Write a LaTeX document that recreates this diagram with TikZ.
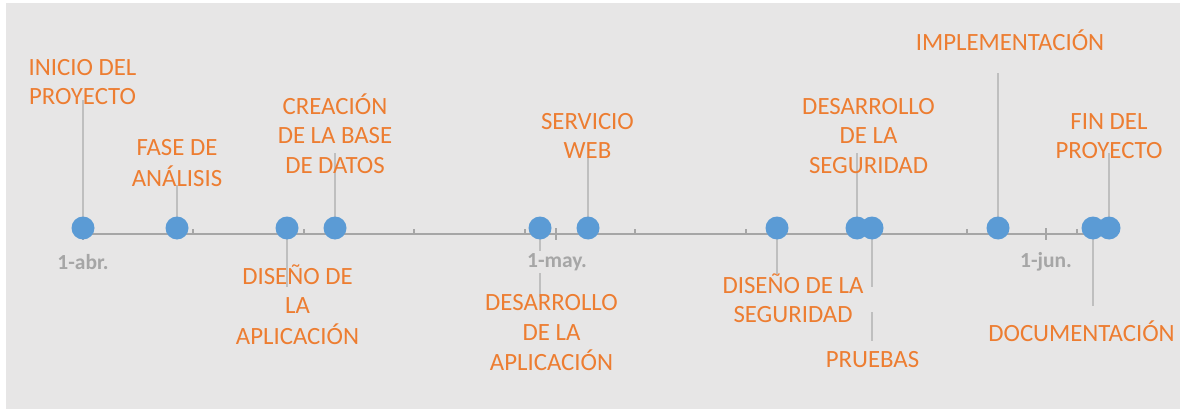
\documentclass[tikz,border=0pt]{standalone}
\usepackage{fontspec}
\setmainfont{Carlito}
\definecolor{bg}{HTML}{E7E6E6}
\definecolor{dotblue}{HTML}{5B9BD5}
\definecolor{lblorange}{HTML}{ED7D31}
\definecolor{axisgray}{HTML}{A6A6A6}
\definecolor{stemgray}{HTML}{BFBFBF}
\pgfdeclarelayer{background}
\pgfsetlayers{background,main}
\tikzset{
  dotnode/.style={circle,fill=dotblue,minimum size=23pt,inner sep=0pt},
  lbl/.style={text=lblorange,align=center,inner sep=0pt,font=\fontsize{24.8}{29.5}\selectfont},
  datelbl/.style={text=axisgray,fill=bg,inner sep=2pt,font=\fontsize{21.5}{24}\selectfont\bfseries},
  stem/.style={draw=stemgray,line width=1.3pt},
  axisline/.style={draw=axisgray,line width=2pt},
  ticksty/.style={draw=axisgray,line width=1.4pt}
}
\begin{document}
\begin{tikzpicture}[x=1pt,y=-1pt]
\useasboundingbox (0,0) rectangle (1180,409);
% dots
\path
  (83,228) node[dotnode] (d1) {}
  (177,228) node[dotnode] (d2) {}
  (287,228) node[dotnode] (d3) {}
  (335,228) node[dotnode] (d4) {}
  (540,228) node[dotnode] (d5) {}
  (588,228) node[dotnode] (d6) {}
  (777,228) node[dotnode] (d7) {}
  (857,228) node[dotnode] (d8) {}
  (872,228) node[dotnode] (d9) {}
  (998,228) node[dotnode] (d10) {}
  (1093,228) node[dotnode] (d11) {}
  (1109,228) node[dotnode] (d12) {};
% stem ends
\coordinate (e1) at (83,100);
\coordinate (e2) at (177,185);
\coordinate (e3) at (287,287);
\coordinate (e4) at (335,153);
\coordinate (e5) at (540,297);
\coordinate (e6) at (588,157);
\coordinate (e7) at (777,274);
\coordinate (e8) at (857,153);
\coordinate (e9a) at (872,287);
\coordinate (e9b) at (872,312);
\coordinate (e9c) at (872,341);
\coordinate (e10) at (998,73);
\coordinate (e11) at (1093,306);
\coordinate (e12) at (1109,153);
\coordinate (axs) at (83,234);
\coordinate (axe) at (1109,234);
\begin{pgfonlayer}{background}
\fill[bg] (6,3) rectangle (1180,409);
\draw[axisline] (axs) -- (axe);
\foreach \t in {193,304,414,525,635,746,856,967,1077}
  \draw[ticksty] (\t,229) -- (\t,234);
\foreach \t in {83,556,1046}
  \draw[ticksty] (\t,228) -- (\t,240);
\draw[stem] (d1.center) -- (e1);
\draw[stem] (d2.center) -- (e2);
\draw[stem] (d3.center) -- (e3);
\draw[stem] (d4.center) -- (e4);
\draw[stem] (d5.center) -- (e5);
\draw[stem] (d6.center) -- (e6);
\draw[stem] (d7.center) -- (e7);
\draw[stem] (d8.center) -- (e8);
\draw[stem] (d9.center) -- (e9a);
\draw[stem] (e9b) -- (e9c);
\draw[stem] (d10.center) -- (e10);
\draw[stem] (d11.center) -- (e11);
\draw[stem] (d12.center) -- (e12);
\end{pgfonlayer}
% date labels
\node[datelbl] (t1) at (83,262) {1-abr.};
\node[datelbl] (t2) at (557,262) {1-may.};
\node[datelbl] (t3) at (1046,262) {1-jun.};
% labels
\node[lbl] (l1) at (82.5,84) {INICIO DEL\strut\\PROYECTO\strut};
\node[lbl] (l2) at (177,165) {FASE DE\strut\\ANÁLISIS\strut};
\node[lbl] (l3) at (335,138) {CREACIÓN\strut\\DE LA BASE\strut\\DE DATOS\strut};
\node[lbl] (l4) at (297.5,308.5) {DISEÑO DE\strut\\LA\strut\\APLICACIÓN\strut};
\node[lbl] (l5) at (551.5,335) {DESARROLLO\strut\\DE LA\strut\\APLICACIÓN\strut};
\node[lbl] (l6) at (587.5,138) {SERVICIO\strut\\WEB\strut};
\node[lbl] (l7) at (793,302) {DISEÑO DE LA\strut\\SEGURIDAD\strut};
\node[lbl] (l8) at (868.5,138) {DESARROLLO\strut\\DE LA\strut\\SEGURIDAD\strut};
\node[lbl] (l9) at (872.5,362) {PRUEBAS\strut};
\node[lbl] (l10) at (1010,44.5) {IMPLEMENTACIÓN\strut};
\node[lbl] (l11) at (1109,138) {FIN DEL\strut\\PROYECTO\strut};
\node[lbl] (l12) at (1081.5,335.5) {DOCUMENTACIÓN\strut};
\end{tikzpicture}
\end{document}
